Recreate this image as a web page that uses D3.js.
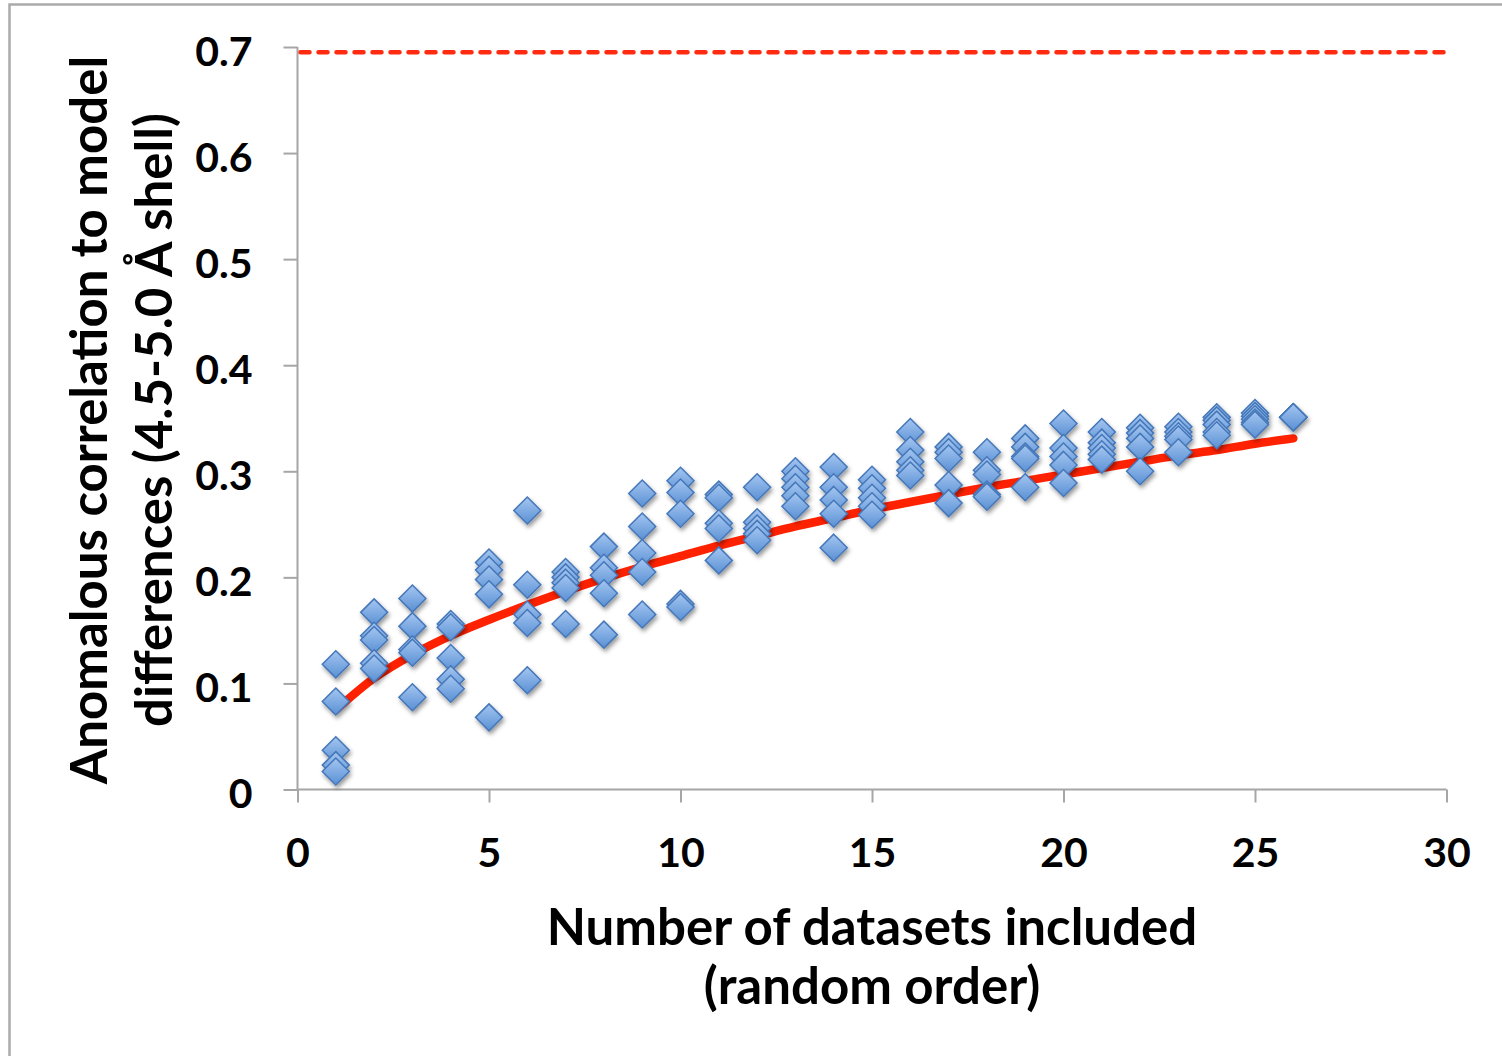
<!DOCTYPE html>
<html>
<head>
<meta charset="utf-8">
<script src="https://cdn.jsdelivr.net/npm/d3@7/dist/d3.min.js"></script>
<style>
  html, body { margin: 0; padding: 0; background: #fff; }
  svg { display: block; }
  text { font-family: Lato, "Open Sans", sans-serif; font-weight: 700; fill: #000; }
</style>
</head>
<body>
<svg id="chart" width="1502" height="1056"></svg>
<script>
// Number of datasets merged (random order), one column of markers each
const datasetCounts = d3.range(1, 27);

// Anomalous correlation for each repeat at a given dataset count
const anomCorr = [
  [0.118, 0.083, 0.037, 0.023, 0.017],
  [0.167, 0.145, 0.141, 0.119, 0.114],
  [0.180, 0.154, 0.132, 0.129, 0.087],
  [0.156, 0.153, 0.124, 0.104, 0.095],
  [0.214, 0.207, 0.198, 0.184, 0.068],
  [0.263, 0.193, 0.165, 0.157, 0.103],
  [0.205, 0.200, 0.195, 0.190, 0.156],
  [0.229, 0.209, 0.202, 0.185, 0.146],
  [0.279, 0.248, 0.223, 0.205, 0.165],
  [0.291, 0.280, 0.260, 0.175, 0.172],
  [0.278, 0.275, 0.251, 0.246, 0.216],
  [0.285, 0.252, 0.246, 0.241, 0.235],
  [0.300, 0.293, 0.285, 0.277, 0.267],
  [0.304, 0.285, 0.273, 0.260, 0.228],
  [0.292, 0.284, 0.275, 0.267, 0.259],
  [0.337, 0.320, 0.309, 0.301, 0.296],
  [0.323, 0.318, 0.312, 0.287, 0.270],
  [0.318, 0.301, 0.297, 0.278, 0.276],
  [0.331, 0.323, 0.314, 0.312, 0.285],
  [0.345, 0.322, 0.314, 0.306, 0.289],
  [0.337, 0.327, 0.322, 0.316, 0.311],
  [0.341, 0.336, 0.331, 0.323, 0.300],
  [0.342, 0.337, 0.333, 0.330, 0.318],
  [0.351, 0.348, 0.344, 0.337, 0.334],
  [0.355, 0.352, 0.349, 0.346, 0.344],
  [0.351, 0.351, 0.351, 0.351, 0.351]
];

// Trend line through the cloud, one value per dataset count
const trendCorr = [0.075, 0.105, 0.127, 0.145, 0.160, 0.174, 0.187, 0.199, 0.210, 0.220,
                   0.230, 0.239, 0.248, 0.256, 0.264, 0.271, 0.278, 0.285, 0.291, 0.297,
                   0.303, 0.309, 0.315, 0.320, 0.326, 0.331];

// Correlation of the full reference set (dashed line)
const referenceCorr = 0.695;

const xTicks = [0, 5, 10, 15, 20, 25, 30];
const yTicks = [0, 0.1, 0.2, 0.3, 0.4, 0.5, 0.6, 0.7];
const yTickLabels = ["0", "0.1", "0.2", "0.3", "0.4", "0.5", "0.6", "0.7"];

const xTitle = ["Number of datasets included", "(random order)"];
const yTitle = ["Anomalous correlation to model", "differences (4.5-5.0 Å shell)"];

const svg = d3.select("#chart");

// outer chart frame
svg.append("rect")
  .attr("x", 9.5).attr("y", 4.5)
  .attr("width", 1510).attr("height", 1070)
  .attr("fill", "#fff")
  .attr("stroke", "#ababab").attr("stroke-width", 2.5);

const plot = { left: 297.5, right: 1446.5, top: 47, bottom: 789.5 };

const x = d3.scaleLinear().domain([0, 30]).range([plot.left, plot.right]);
const y = d3.scaleLinear().domain([0, 0.7]).range([plot.bottom, plot.top]);

const defs = svg.append("defs");
const grad = defs.append("linearGradient")
  .attr("id", "markerFill").attr("x1", 0).attr("y1", 0).attr("x2", 0).attr("y2", 1);
grad.append("stop").attr("offset", "0%").attr("stop-color", "#a4c6f1");
grad.append("stop").attr("offset", "100%").attr("stop-color", "#5a90d4");

const shadow = defs.append("filter").attr("id", "markerShadow")
  .attr("x", "-50%").attr("y", "-50%").attr("width", "200%").attr("height", "200%");
shadow.append("feDropShadow")
  .attr("dx", 1.5).attr("dy", 3).attr("stdDeviation", 2)
  .attr("flood-color", "#000").attr("flood-opacity", 0.4);

// axes
const axisColor = "#a6a6a6";
const tickFont = 41;

const yAxis = svg.append("g")
  .attr("transform", `translate(${plot.left},0)`)
  .call(d3.axisLeft(y).tickValues(yTicks).tickSize(14).tickPadding(31)
    .tickFormat((d, i) => yTickLabels[i]));
yAxis.select(".domain").attr("stroke", axisColor).attr("stroke-width", 2)
  .attr("d", `M0,${plot.top}V${plot.bottom}`);
yAxis.selectAll(".tick line").attr("stroke", axisColor).attr("stroke-width", 2);
yAxis.selectAll(".tick text")
  .attr("font-size", tickFont).attr("font-family", "Lato, sans-serif").attr("font-weight", 700)
  .attr("fill", "#000").attr("dy", "0.45em");

const xAxis = svg.append("g")
  .attr("transform", `translate(0,${plot.bottom})`)
  .call(d3.axisBottom(x).tickValues(xTicks).tickSize(13).tickPadding(35)
    .tickFormat(d3.format("d")));
xAxis.select(".domain").attr("stroke", axisColor).attr("stroke-width", 2)
  .attr("d", `M${plot.left},0H${plot.right}`);
xAxis.selectAll(".tick line").attr("stroke", axisColor).attr("stroke-width", 2);
xAxis.selectAll(".tick text")
  .attr("font-size", tickFont).attr("font-family", "Lato, sans-serif").attr("font-weight", 700)
  .attr("fill", "#000");

// dashed reference level
svg.append("line")
  .attr("x1", x(0) + 3).attr("x2", x(30))
  .attr("y1", y(referenceCorr)).attr("y2", y(referenceCorr))
  .attr("stroke", "#ff2a10").attr("stroke-width", 4.5)
  .attr("stroke-linecap", "round")
  .attr("stroke-dasharray", "9,9");

// trend line
const line = d3.line()
  .x((d, i) => x(datasetCounts[i]))
  .y(d => y(d))
  .curve(d3.curveMonotoneX);
svg.append("path")
  .datum(trendCorr)
  .attr("d", line)
  .attr("fill", "none")
  .attr("stroke", "#ff2200")
  .attr("stroke-width", 8.5)
  .attr("stroke-linecap", "round");

// scatter markers (diamonds)
const points = [];
datasetCounts.forEach((n, i) => anomCorr[i].forEach(v => points.push({ n, v })));
const r = 13.5;
svg.append("g").attr("filter", "url(#markerShadow)")
  .selectAll("path")
  .data(points)
  .join("path")
  .attr("transform", d => `translate(${x(d.n)},${y(d.v)})`)
  .attr("d", `M0,${-r}L${r},0L0,${r}L${-r},0Z`)
  .attr("fill", "url(#markerFill)")
  .attr("stroke", "#4577b9")
  .attr("stroke-width", 1.5);

// axis titles
const titleFont = 51;
const xt = svg.append("text")
  .attr("text-anchor", "middle")
  .attr("font-size", titleFont);
xt.selectAll("tspan").data(xTitle).join("tspan")
  .attr("x", 872)
  .attr("y", (d, i) => 945 + i * 59)
  .text(d => d);

const yt = svg.append("text")
  .attr("text-anchor", "middle")
  .attr("font-size", titleFont)
  .attr("transform", "translate(0,420) rotate(-90)");
yt.selectAll("tspan").data(yTitle).join("tspan")
  .attr("x", 0)
  .attr("y", (d, i) => 107 + i * 65)
  .text(d => d);
</script>
</body>
</html>
